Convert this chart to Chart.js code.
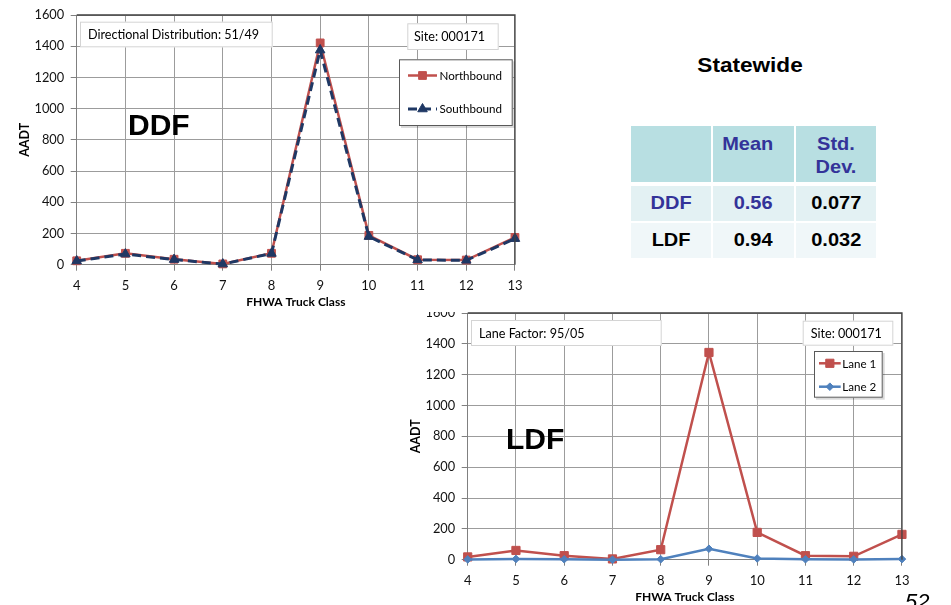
<!DOCTYPE html>
<html>
<head>
<meta charset="utf-8">
<script src="https://cdn.jsdelivr.net/npm/chart.js@4/dist/chart.umd.min.js"></script>
<style>
  html, body { margin: 0; padding: 0; background: #fff; }
  body { width: 951px; height: 605px; position: relative; overflow: hidden;
         font-family: "Liberation Sans", Arial, sans-serif; }
  canvas { position: absolute; }
  #ddfChart { left: 0; top: 0; }
  #ldfWrap { position: absolute; left: 391px; top: 311.5px; width: 526px; height: 294px; overflow: hidden; }
  #ldfChart { left: 0; top: -13.5px; }
  .tag { position: absolute; font-weight: bold; font-size: 30px; line-height: 1; color: #000; }
  #statewide { position: absolute; left: 650px; top: 54px; width: 200px; text-align: center;
               font-weight: bold; font-size: 21px; line-height: 1; color: #000; }
  #statewide span, .cell span { display: inline-block; transform: scaleX(1.075); }
  .cell { position: absolute; box-sizing: border-box; font-weight: bold; font-size: 18.6px;
          line-height: 22.7px; text-align: center; display: flex; justify-content: center; }
  .cell.mid { align-items: center; }
  .cell.head { align-items: flex-start; padding-top: 7.8px; }
  #page { position: absolute; left: 905px; top: 591px; font-size: 22px; font-style: italic; line-height: 1; color: #000; }
</style>
</head>
<body>
<canvas id="ddfChart" width="530" height="310"></canvas>
<div id="ldfWrap"><canvas id="ldfChart" width="526" height="307"></canvas></div>
<div class="tag" style="left:128px; top:110.4px;">DDF</div>
<div class="tag" style="left:506px; top:424.4px;">LDF</div>
<div id="statewide"><span>Statewide</span></div>
<div id="table"></div>
<div id="page">52</div>

<script>
// FHWA truck classes on the x axis
const truckClasses = ['4', '5', '6', '7', '8', '9', '10', '11', '12', '13'];
// AADT gridline values on the y axis
const aadtTicks = [0, 200, 400, 600, 800, 1000, 1200, 1400, 1600];

// Directional split (site 000171)
const northbound = [25, 73, 35, 5, 73, 1421, 188, 32, 30, 175];
const southbound = [24, 68, 33, 4, 72, 1375, 180, 31, 28, 167];

// Lane split (site 000171)
const lane1 = [18, 60, 26, 5, 65, 1344, 177, 26, 22, 164];
const lane2 = [2, 5, 3, 0, 3, 71, 8, 3, 2, 4];

// Statewide summary
const summaryHeaders = ['', 'Mean', 'Std.\nDev.'];
const factorNames = ['DDF', 'LDF'];
const factorMeans = ['0.56', '0.94'];
const factorStdDevs = ['0.077', '0.032'];

const CHART_FONT = 'Lato, "Open Sans", sans-serif';
const RED = '#c0504d', NAVY = '#1f3864', BLUE = '#4f81bd';
const GRID = '#9c9c9c', AXIS = '#808080';

function drawMarker(ctx, style, r, x, y) {
  if (Chart.helpers && Chart.helpers.drawPoint) {
    Chart.helpers.drawPoint(ctx, { pointStyle: style, radius: r, rotation: 0, borderWidth: 1 }, x, y);
    return;
  }
  ctx.beginPath();
  if (style === 'rect') { const s = r * Math.SQRT1_2; ctx.rect(x - s, y - s, 2 * s, 2 * s); }
  else if (style === 'triangle') { ctx.moveTo(x, y - r); ctx.lineTo(x + r * 0.866, y + r / 2); ctx.lineTo(x - r * 0.866, y + r / 2); ctx.closePath(); }
  else { ctx.moveTo(x, y - r); ctx.lineTo(x + r, y); ctx.lineTo(x, y + r); ctx.lineTo(x - r, y); ctx.closePath(); }
  ctx.fill(); ctx.stroke();
}

// Frame, caption boxes and legend drawn over each plot
const panelDecor = {
  id: 'panelDecor',
  afterDraw(chart, args, opts) {
    const { ctx, chartArea: a } = chart;
    ctx.save();
    ctx.strokeStyle = '#404040';
    ctx.lineWidth = 1.3;
    ctx.beginPath();
    ctx.moveTo(a.left, a.top);
    ctx.lineTo(a.right, a.top);
    ctx.lineTo(a.right, a.bottom);
    ctx.stroke();

    ctx.textBaseline = 'middle';
    ctx.textAlign = 'left';
    ctx.font = '12.6px ' + CHART_FONT;
    for (const n of opts.notes) {
      ctx.fillStyle = '#fff';
      ctx.fillRect(n.x, n.y, n.w, n.h);
      ctx.strokeStyle = '#d4d4d4';
      ctx.lineWidth = 1;
      ctx.strokeRect(n.x + 0.5, n.y + 0.5, n.w - 1, n.h - 1);
      ctx.fillStyle = '#000';
      ctx.fillText(n.text, n.tx, n.y + n.h / 2 + 0.5);
    }

    const L = opts.legend;
    ctx.font = '11.6px ' + CHART_FONT;
    ctx.fillStyle = 'rgba(0,0,0,0.15)';
    ctx.fillRect(L.x + 2, L.y + 2, L.w, L.h);
    ctx.fillStyle = '#fff';
    ctx.fillRect(L.x, L.y, L.w, L.h);
    ctx.strokeStyle = '#595959';
    ctx.lineWidth = 1;
    ctx.strokeRect(L.x + 0.5, L.y + 0.5, L.w - 1, L.h - 1);
    chart.data.datasets.forEach((ds, i) => {
      const y = L.rows[i];
      ctx.save();
      ctx.strokeStyle = ds.borderColor;
      ctx.lineWidth = ds.borderWidth;
      ctx.setLineDash(ds.borderDash || []);
      ctx.beginPath();
      ctx.moveTo(L.x1, y);
      ctx.lineTo(L.x2, y);
      ctx.stroke();
      ctx.setLineDash([]);
      ctx.fillStyle = ds.backgroundColor;
      ctx.strokeStyle = ds.borderColor;
      ctx.lineWidth = 1;
      drawMarker(ctx, ds.pointStyle, ds.pointRadius, (L.x1 + L.x2) / 2, y);
      ctx.restore();
      ctx.fillStyle = '#000';
      ctx.fillText(ds.label, L.tx, y + 0.5);
    });
    ctx.restore();
  }
};

function series(label, values, color, style, radius, width, dash, order) {
  return {
    label, data: values, borderColor: color, backgroundColor: color,
    borderWidth: width, borderDash: dash, pointStyle: style, pointRadius: radius,
    pointBorderWidth: 1, pointBorderColor: color, pointBackgroundColor: color,
    tension: 0, clip: false, order
  };
}

function buildChart(id, datasets, decor) {
  return new Chart(document.getElementById(id), {
    type: 'line',
    data: { labels: truckClasses, datasets },
    options: {
      responsive: false,
      animation: false,
      devicePixelRatio: 1,
      layout: { padding: { top: 15, right: 12, left: 0, bottom: 0 } },
      plugins: { legend: { display: false }, tooltip: { enabled: false }, panelDecor: decor },
      scales: {
        x: {
          type: 'category',
          offset: false,
          grid: { color: GRID, lineWidth: 1, tickLength: 6, tickColor: AXIS },
          border: { color: AXIS, width: 1 },
          ticks: { color: '#111', font: { family: CHART_FONT, size: 13 }, padding: 7.5, autoSkip: false, maxRotation: 0 },
          title: { display: true, text: 'FHWA Truck Class', color: '#000',
                   font: { family: CHART_FONT, size: 12, weight: 'bold' }, padding: { top: 0, bottom: 1 } },
          afterFit(s) { s.height = 45.3; }
        },
        y: {
          min: 0, max: 1600,
          afterBuildTicks(s) { s.ticks = aadtTicks.map(v => ({ value: v })); },
          grid: { color: GRID, lineWidth: 1, tickLength: 6, tickColor: AXIS },
          border: { color: AXIS, width: 1 },
          ticks: { color: '#111', font: { family: CHART_FONT, size: 12.8 }, padding: 6.5,
                   callback: v => String(v) },
          title: { display: true, text: 'AADT', color: '#000',
                   font: { family: CHART_FONT, size: 12.5, weight: 'bold' }, padding: { top: 17, bottom: 0 } },
          afterFit(s) { s.width = 76.7; }
        }
      }
    },
    plugins: [panelDecor]
  });
}

buildChart('ddfChart', [
  series('Northbound', northbound, RED, 'rect', 5.5, 2.5, [], 1),
  series('Southbound', southbound, NAVY, 'triangle', 5.5, 3, [9, 5], 0)
], {
  notes: [
    { x: 80, y: 21.7, w: 192.7, h: 25.6, tx: 88, text: 'Directional Distribution: 51/49' },
    { x: 407.3, y: 23.3, w: 91.4, h: 26.7, tx: 414, text: 'Site: 000171' }
  ],
  legend: { x: 399, y: 59.3, w: 113.7, h: 66.7, rows: [75.5, 109], x1: 408, x2: 437, tx: 439.5 }
});

buildChart('ldfChart', [
  series('Lane 1', lane1, RED, 'rect', 5.8, 2.5, [], 1),
  series('Lane 2', lane2, BLUE, 'rectRot', 3.8, 2.5, [], 0)
], {
  notes: [
    { x: 80, y: 22, w: 190.7, h: 26, tx: 88, text: 'Lane Factor: 95/05' },
    { x: 411.7, y: 22.7, w: 90.6, h: 25, tx: 419.7, text: 'Site: 000171' }
  ],
  legend: { x: 423, y: 53, w: 68.7, h: 46.7, rows: [65.3, 88.7], x1: 428, x2: 449.7, tx: 451.3 }
});

// Statewide summary table
const colX = [631, 713, 796], colW = [79.7, 81, 80];
const rowY = [125.7, 185.7, 222.7], rowH = [56, 35, 35];
const rowBg = ['#b8dfe2', '#e3f1f3', '#f0f7f9'];
const INK = '#333399';
const table = document.getElementById('table');
function addCell(r, c, text, color, extra) {
  const d = document.createElement('div');
  d.className = 'cell ' + (r === 0 ? 'head' : 'mid');
  d.style.left = colX[c] + 'px';
  d.style.top = rowY[r] + 'px';
  d.style.width = colW[c] + 'px';
  d.style.height = rowH[r] + 'px';
  d.style.background = rowBg[r];
  d.style.color = color;
  if (extra) Object.assign(d.style, extra);
  const s = document.createElement('span');
  s.innerHTML = text.split('\n').join('<br>');
  d.appendChild(s);
  table.appendChild(d);
}
summaryHeaders.forEach((h, c) => addCell(0, c, h, INK, c === 1 ? { paddingRight: '12px' } : null));
factorNames.forEach((name, i) => {
  const color = i === 0 ? INK : '#000';
  addCell(i + 1, 0, name, color);
  addCell(i + 1, 1, factorMeans[i], color);
  addCell(i + 1, 2, factorStdDevs[i], '#000');
});
</script>
</body>
</html>
